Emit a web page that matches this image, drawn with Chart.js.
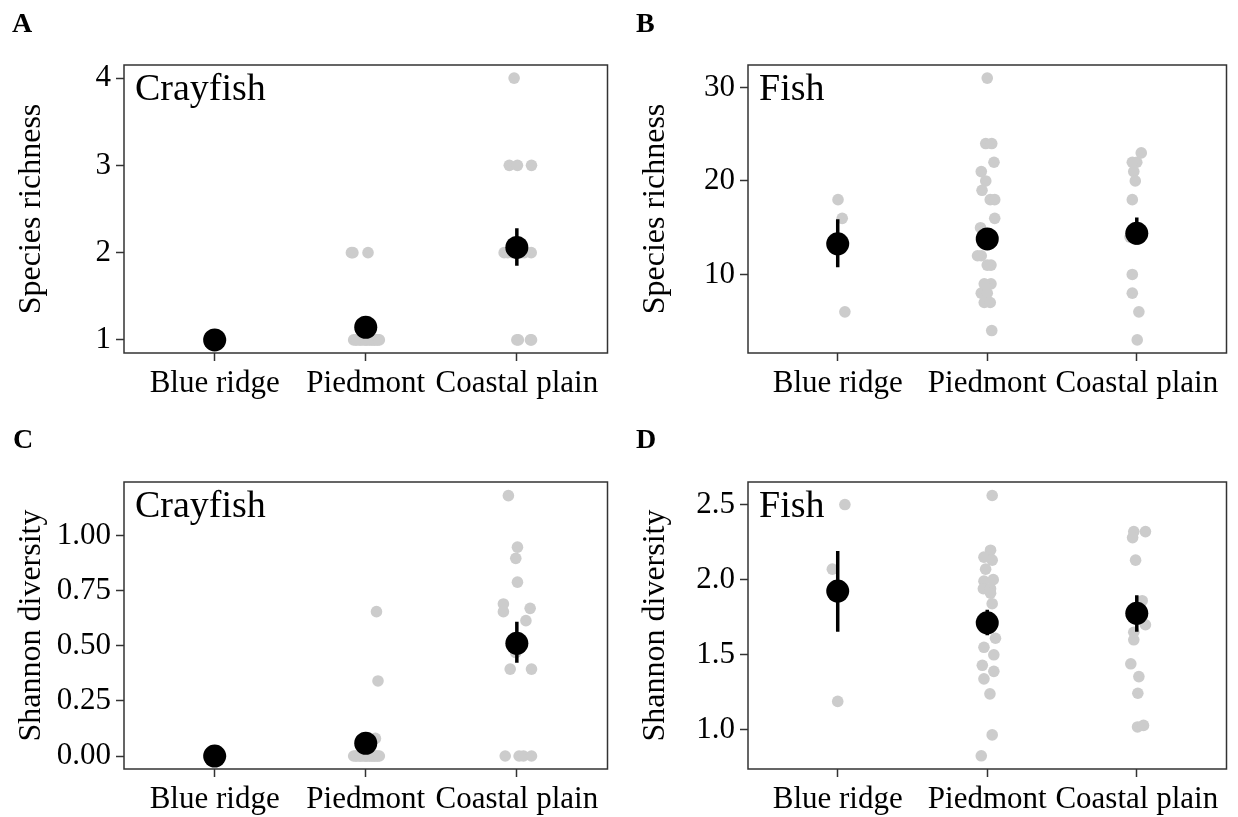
<!DOCTYPE html>
<html>
<head>
<meta charset="utf-8">
<script src="https://cdn.jsdelivr.net/npm/chart.js@4.4.0/dist/chart.umd.min.js"></script>
<style>
  body { margin: 0; background: #fff; }
  #wrap { position: relative; width: 1238px; height: 817px; }
  canvas { position: absolute; }
</style>
</head>
<body>
<div id="wrap">
  <canvas id="cA" width="619" height="410" style="left:0;top:0"></canvas>
  <canvas id="cB" width="619" height="410" style="left:619px;top:0"></canvas>
  <canvas id="cC" width="619" height="407" style="left:0;top:410px"></canvas>
  <canvas id="cD" width="619" height="407" style="left:619px;top:410px"></canvas>
</div>
<script>
const regions = ['Blue ridge', 'Piedmont', 'Coastal plain'];

// A - crayfish species richness (per region: site values, horizontal jitter)
const crayRich = [
  [1, 1, 1],
  [2, 2, 2, 1, 1, 1, 1, 1, 1, 1, 1, 1, 1, 1, 1, 1, 1, 1, 1, 1],
  [4, 3, 3, 3, 2, 2, 2, 2, 2, 2, 2, 1, 1, 1, 1]
];
const crayRichJit = [
  [-0.03, 0.01, 0.04],
  [-0.095, 0.015, -0.085, -0.08, -0.065, -0.06, -0.04, -0.035, -0.02, -0.005, 0.0, 0.01, 0.025, 0.03, 0.045, 0.05, 0.06, 0.07, 0.08, 0.09],
  [-0.018, -0.05, 0.004, 0.097, -0.084, 0.095, -0.03, 0.0, 0.03, 0.05, -0.06, 0.0, 0.097, 0.01, 0.09]
];
const crayRichMean = [1.0, 1.145, 2.06];
const crayRichLo = [1.0, 1.10, 1.85];
const crayRichHi = [1.0, 1.19, 2.28];

// B - fish species richness
const fishRich = [
  [18, 16, 6],
  [31, 24, 24, 22, 21, 20, 19, 18, 18, 16, 15, 14, 12, 12, 11, 11, 9, 9, 8, 8, 7, 7, 4],
  [23, 22, 22, 21, 20, 18, 14, 10, 8, 6, 3]
];
const fishRichJit = [
  [0.002, 0.03, 0.048],
  [0.0, -0.01, 0.03, 0.045, -0.04, -0.01, -0.035, 0.02, 0.05, 0.05, -0.045, 0.01, -0.04, -0.065, 0.025, 0.0, 0.025, -0.02, -0.04, 0.0, -0.02, 0.02, 0.03],
  [0.03, 0.0, -0.03, -0.02, -0.01, -0.03, -0.045, -0.03, -0.03, 0.014, 0.003]
];
const fishRichMean = [13.28, 13.8, 14.4];
const fishRichLo = [10.77, 12.9, 13.2];
const fishRichHi = [15.9, 14.7, 16.1];

// C - crayfish Shannon diversity
const crayShan = [
  [0, 0, 0],
  [0.656, 0.341, 0.08, 0, 0, 0, 0, 0, 0, 0, 0, 0, 0, 0, 0, 0, 0, 0, 0, 0],
  [1.183, 0.949, 0.898, 0.79, 0.691, 0.656, 0.671, 0.615, 0.47, 0.395, 0.395, 0, 0, 0, 0]
];
const crayShanJit = [
  [-0.03, 0.01, 0.04],
  [0.071, 0.081, 0.064, -0.08, -0.065, -0.06, -0.04, -0.035, -0.02, -0.005, 0.0, 0.01, 0.025, 0.03, 0.045, 0.05, 0.06, 0.07, 0.08, 0.09],
  [-0.056, 0.004, -0.007, 0.004, -0.089, -0.089, 0.088, 0.06, -0.007, -0.044, 0.097, -0.077, 0.015, 0.044, 0.097]
];
const crayShanMean = [0.0, 0.058, 0.512];
const crayShanLo = [0.0, 0.025, 0.424];
const crayShanHi = [0.0, 0.09, 0.61];

// D - fish Shannon diversity
const fishShan = [
  [2.50, 2.07, 1.19],
  [2.56, 2.196, 2.15, 2.13, 2.07, 1.99, 2.0, 1.94, 1.94, 1.91, 1.84, 1.72, 1.61, 1.55, 1.50, 1.43, 1.39, 1.34, 1.24, 0.967, 0.828],
  [2.32, 2.32, 2.28, 2.13, 1.86, 1.70, 1.65, 1.60, 1.44, 1.355, 1.244, 1.02, 1.03]
];
const fishShanJit = [
  [0.048, -0.036, 0.0],
  [0.033, 0.022, -0.022, 0.033, -0.011, -0.022, 0.04, -0.026, 0.022, 0.022, 0.033, 0.0, 0.055, -0.022, 0.044, -0.033, 0.044, -0.022, 0.018, 0.033, -0.04],
  [-0.02, 0.058, -0.028, -0.008, 0.036, 0.058, -0.02, -0.02, -0.04, 0.014, 0.007, 0.005, 0.045]
];
const fishShanMean = [1.924, 1.713, 1.776];
const fishShanLo = [1.653, 1.63, 1.653];
const fishShanHi = [2.19, 1.80, 1.897];

// axis ticks
const ticksA = [1, 2, 3, 4];
const tickLabelsA = ['1', '2', '3', '4'];
const ticksB = [10, 20, 30];
const tickLabelsB = ['10', '20', '30'];
const ticksC = [0, 0.25, 0.5, 0.75, 1.0];
const tickLabelsC = ['0.00', '0.25', '0.50', '0.75', '1.00'];
const ticksD = [1.0, 1.5, 2.0, 2.5];
const tickLabelsD = ['1.0', '1.5', '2.0', '2.5'];

const serif = "'Liberation Serif', 'Times New Roman', serif";

// frame around the panel + panel letter + taxon label
const panelText = {
  id: 'panelText',
  afterDraw(chart, args, opts) {
    const { ctx, chartArea } = chart;
    ctx.save();
    ctx.strokeStyle = '#333';
    ctx.lineWidth = 1.5;
    ctx.strokeRect(chartArea.left, chartArea.top, chartArea.right - chartArea.left, chartArea.bottom - chartArea.top);
    ctx.fillStyle = '#000';
    ctx.textBaseline = 'alphabetic';
    ctx.textAlign = 'left';
    ctx.font = 'bold 28px ' + serif;
    ctx.fillText(opts.letter, opts.letterX, opts.letterY);
    ctx.font = '38px ' + serif;
    ctx.fillText(opts.label, chartArea.left + 11, chartArea.top + 35);
    ctx.restore();
  }
};

function buildDatasets(vals, jit, means, lo, hi) {
  const pts = [];
  vals.forEach((arr, i) => arr.forEach((v, k) => pts.push({ x: i + 1 + jit[i][k], y: v })));
  const ds = [];
  ds.push({
    data: means.map((m, i) => ({ x: i + 1, y: m })),
    backgroundColor: '#000', pointRadius: 11.5, borderWidth: 0, order: 0
  });
  regions.forEach((r, i) => ds.push({
    data: [{ x: i + 1, y: lo[i] }, { x: i + 1, y: hi[i] }],
    showLine: true, borderColor: '#000', borderWidth: 3.5, pointRadius: 0, order: 1
  }));
  ds.push({ data: pts, backgroundColor: '#cccccc', pointRadius: 5.8, borderWidth: 0, order: 2 });
  return ds;
}

function makePanel(id, p) {
  const tickFont = { family: serif, size: 31 };
  new Chart(document.getElementById(id), {
    type: 'scatter',
    data: { datasets: buildDatasets(p.vals, p.jit, p.mean, p.lo, p.hi) },
    plugins: [panelText],
    options: {
      responsive: false,
      animation: false,
      devicePixelRatio: 1,
      events: [],
      layout: { padding: { left: 0, right: p.padRight, top: p.padTop, bottom: 0 } },
      plugins: {
        legend: { display: false },
        tooltip: { enabled: false },
        panelText: { letter: p.letter, letterX: p.letterX, letterY: p.letterY, label: p.label }
      },
      scales: {
        x: {
          type: 'linear', min: 0.4, max: 3.6,
          afterBuildTicks: s => { s.ticks = regions.map((r, i) => ({ value: i + 1 })); },
          afterFit: s => { s.height = p.xHeight; },
          ticks: {
            callback: (v, i) => regions[i],
            font: tickFont, color: '#000', padding: 4,
            autoSkip: false, maxRotation: 0, minRotation: 0
          },
          grid: { display: true, drawOnChartArea: false, drawTicks: true, tickLength: 8, tickColor: '#333', tickWidth: 1.5 },
          border: { display: false }
        },
        y: {
          type: 'linear', min: p.yMin, max: p.yMax,
          afterBuildTicks: s => { s.ticks = p.ticks.map(v => ({ value: v })); },
          afterFit: s => { s.width = p.yWidth; },
          ticks: { callback: (v, i) => p.tickLabels[i], font: tickFont, color: '#000', padding: 5 },
          grid: { display: true, drawOnChartArea: false, drawTicks: true, tickLength: 8, tickColor: '#333', tickWidth: 1.5 },
          border: { display: false },
          title: {
            display: true, text: p.yTitle, color: '#000',
            font: { family: serif, size: 32 }, padding: { top: p.titlePad, bottom: 0 }
          }
        }
      }
    }
  });
}

makePanel('cA', {
  vals: crayRich, jit: crayRichJit, mean: crayRichMean, lo: crayRichLo, hi: crayRichHi,
  yMin: 0.85, yMax: 4.15, ticks: ticksA, tickLabels: tickLabelsA, yTitle: 'Species richness',
  letter: 'A', letterX: 12, letterY: 32, label: 'Crayfish',
  padTop: 65, padRight: 11, xHeight: 57, yWidth: 124, titlePad: 12
});
makePanel('cB', {
  vals: fishRich, jit: fishRichJit, mean: fishRichMean, lo: fishRichLo, hi: fishRichHi,
  yMin: 1.6, yMax: 32.4, ticks: ticksB, tickLabels: tickLabelsB, yTitle: 'Species richness',
  letter: 'B', letterX: 17, letterY: 32, label: 'Fish',
  padTop: 65, padRight: 6, xHeight: 57, yWidth: 129, titlePad: 17
});
makePanel('cC', {
  vals: crayShan, jit: crayShanJit, mean: crayShanMean, lo: crayShanLo, hi: crayShanHi,
  yMin: -0.059, yMax: 1.245, ticks: ticksC, tickLabels: tickLabelsC, yTitle: 'Shannon diversity',
  letter: 'C', letterX: 13, letterY: 38, label: 'Crayfish',
  padTop: 72, padRight: 11, xHeight: 48, yWidth: 124, titlePad: 12
});
makePanel('cD', {
  vals: fishShan, jit: fishShanJit, mean: fishShanMean, lo: fishShanLo, hi: fishShanHi,
  yMin: 0.74, yMax: 2.65, ticks: ticksD, tickLabels: tickLabelsD, yTitle: 'Shannon diversity',
  letter: 'D', letterX: 17, letterY: 38, label: 'Fish',
  padTop: 72, padRight: 6, xHeight: 48, yWidth: 129, titlePad: 17
});
</script>
</body>
</html>
